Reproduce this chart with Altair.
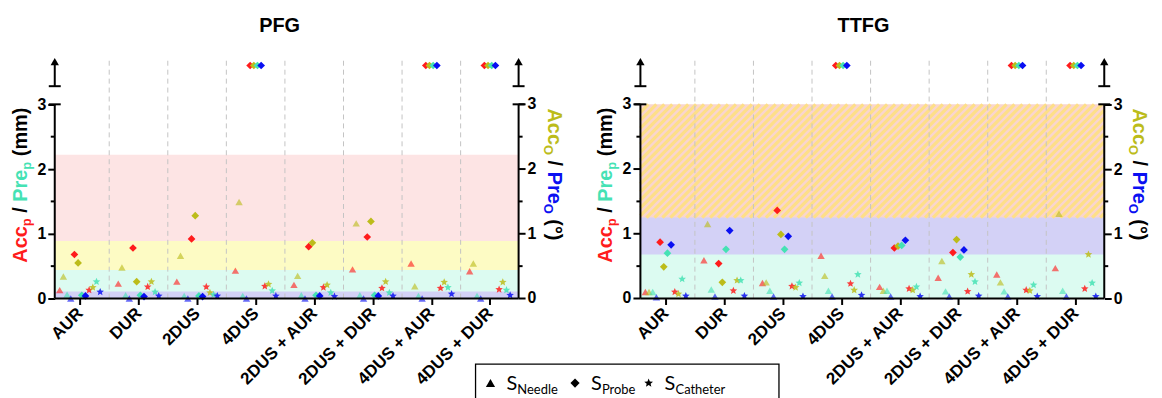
import json
import math
import altair as alt
import pandas as pd

# ---------------- data ----------------
categories = ["AUR", "DUR", "2DUS", "4DUS", "2DUS + AUR", "2DUS + DUR", "4DUS + AUR", "4DUS + DUR"]
panels = ["PFG", "TTFG"]
samples = ["Needle", "Probe", "Catheter"]
metrics = ["Acc_p", "Acc_o", "Pre_p", "Pre_o"]

# None = value beyond the axis (drawn above the break)
pfg_needle_acc_p = [0.13, 0.23, 0.26, 0.43, 0.21, 0.45, 0.54, 0.42]
pfg_needle_acc_o = [0.34, 0.48, 0.66, 1.49, 0.35, 1.16, 0.19, 0.54]
pfg_needle_pre_p = [0.06, 0.05, 0.04, 0.04, 0.05, 0.05, 0.04, 0.04]
pfg_needle_pre_o = [0.0, 0.0, 0.0, 0.0, 0.0, 0.0, 0.0, 0.0]
pfg_probe_acc_p = [0.68, 0.78, 0.92, None, 0.80, 0.95, None, None]
pfg_probe_acc_o = [0.55, 0.26, 1.28, None, 0.86, 1.19, None, None]
pfg_probe_pre_p = [0.05, 0.05, 0.04, None, 0.05, 0.05, None, None]
pfg_probe_pre_o = [0.04, 0.03, 0.03, None, 0.04, 0.04, None, None]
pfg_catheter_acc_p = [0.13, 0.18, 0.18, 0.19, 0.17, 0.16, 0.16, 0.14]
pfg_catheter_acc_o = [0.17, 0.26, 0.09, 0.22, 0.21, 0.26, 0.25, 0.25]
pfg_catheter_pre_p = [0.26, 0.10, 0.06, 0.12, 0.09, 0.09, 0.17, 0.13]
pfg_catheter_pre_o = [0.10, 0.04, 0.04, 0.04, 0.03, 0.04, 0.07, 0.05]

ttfg_needle_acc_p = [0.10, 0.59, 0.24, 0.66, 0.18, 0.32, 0.37, 0.47]
ttfg_needle_acc_o = [0.10, 1.15, 0.25, 0.35, 0.12, 0.58, 0.25, 1.31]
ttfg_needle_pre_p = [0.10, 0.14, 0.12, 0.12, 0.12, 0.11, 0.11, 0.12]
ttfg_needle_pre_o = [0.02, 0.03, 0.03, 0.03, 0.03, 0.03, 0.03, 0.03]
ttfg_probe_acc_p = [0.87, 0.54, 1.36, None, 0.78, 0.71, None, None]
ttfg_probe_acc_o = [0.49, 0.25, 0.99, None, 0.81, 0.91, None, None]
ttfg_probe_pre_p = [0.70, 0.76, 0.76, None, 0.82, 0.64, None, None]
ttfg_probe_pre_o = [0.83, 1.05, 0.96, None, 0.90, 0.75, None, None]
ttfg_catheter_acc_p = [0.10, 0.12, 0.19, 0.23, 0.15, 0.11, 0.13, 0.15]
ttfg_catheter_acc_o = [0.07, 0.28, 0.17, 0.13, 0.13, 0.37, 0.12, 0.68]
ttfg_catheter_pre_p = [0.30, 0.28, 0.24, 0.37, 0.18, 0.26, 0.21, 0.24]
ttfg_catheter_pre_o = [0.04, 0.04, 0.03, 0.05, 0.03, 0.04, 0.03, 0.03]

# tolerance bands, order Acc_p, Acc_o, Pre_p, Pre_o
pfg_limits = [2.22, 0.89, 0.44, 0.11]
ttfg_limits = [3.0, 3.0, 0.68, 1.25]

values = {
    "PFG": {
        "Needle": [pfg_needle_acc_p, pfg_needle_acc_o, pfg_needle_pre_p, pfg_needle_pre_o],
        "Probe": [pfg_probe_acc_p, pfg_probe_acc_o, pfg_probe_pre_p, pfg_probe_pre_o],
        "Catheter": [pfg_catheter_acc_p, pfg_catheter_acc_o, pfg_catheter_pre_p, pfg_catheter_pre_o],
    },
    "TTFG": {
        "Needle": [ttfg_needle_acc_p, ttfg_needle_acc_o, ttfg_needle_pre_p, ttfg_needle_pre_o],
        "Probe": [ttfg_probe_acc_p, ttfg_probe_acc_o, ttfg_probe_pre_p, ttfg_probe_pre_o],
        "Catheter": [ttfg_catheter_acc_p, ttfg_catheter_acc_o, ttfg_catheter_pre_p, ttfg_catheter_pre_o],
    },
}
limits = {"PFG": pfg_limits, "TTFG": ttfg_limits}

# ---------------- style / layout ----------------
FONT = "Liberation Sans"
RED, OLIVE, CYAN, BLUE = "#ff1c1c", "#bcbc1a", "#45e2b4", "#0a10f2"
metric_color = dict(zip(metrics, [RED, OLIVE, CYAN, BLUE]))
band_color = {"Acc_p": "#fde4e4", "Acc_o": "#fdfbc4", "Pre_p": "#dcfbf1", "Pre_o": "#d3d1f6"}
HATCH_BASE, HATCH_STRIPE = "#f9d5cf", "#fedf88"
shape_of = {"Needle": "triangle-up", "Probe": "diamond"}

PLOT_W, PLOT_H = 1055, 244
LX_MIN, LX_MAX = -0.43, 7.49
PANEL_SHIFT = 10
X_MIN, X_MAX = LX_MIN, LX_MAX + PANEL_SHIFT
Y_TOP = 3.75
PXU = PLOT_W / (X_MAX - X_MIN)
PXV = PLOT_H / Y_TOP
DODGE = 3.7 / PXU
OFF_V = 3.6
BREAK_LO, BREAK_HI, ARROW_V = 3.28, 3.62, 3.66

pts = []
for k in range(10):
    a = math.radians(-90 + 36 * k)
    r = 1.0 if k % 2 == 0 else 0.45
    pts.append(f"{r * math.cos(a):.3f},{r * math.sin(a):.3f}")
STAR = "M" + " L".join(pts) + " Z"
shape_of["Catheter"] = STAR

XS = alt.Scale(domain=[X_MIN, X_MAX], nice=False, zero=False)
YS = alt.Scale(domain=[0, Y_TOP], nice=False, zero=False)
tick_vals = list(range(8)) + [PANEL_SHIFT + i for i in range(8)]
XAXIS = alt.Axis(values=tick_vals, labelExpr=f"{json.dumps(categories)}[datum.value % {PANEL_SHIFT}]",
                 labelAngle=315, labelAlign="right", labelBaseline="middle", labelPadding=6,
                 labelFont=FONT, labelFontSize=17, labelFontWeight="bold", labelColor="black",
                 labelOverlap=False, labelFlush=False, tickSize=6, tickWidth=2, tickColor="black",
                 domain=False, grid=False, title=None)


def yaxis(orient):
    return alt.Axis(orient=orient, values=[0, 1, 2, 3], format="d", labelFont=FONT, labelFontSize=16,
                    labelFontWeight="bold", labelColor="black", labelPadding=2, labelFlush=False,
                    tickSize=7, tickWidth=2, tickColor="black", domain=False, grid=False, title=None)


YAXIS_L, YAXIS_R = yaxis("left"), yaxis("right")


def X(f="u"):
    return alt.X(f"{f}:Q", scale=XS, axis=XAXIS)


def Y(f="v"):
    return alt.Y(f"{f}:Q", scale=YS, axis=YAXIS_L)


layers = []

# ---- bands + hatch ----
band_rows, stripe_rows = [], []
for p_i, pname in enumerate(panels):
    off = p_i * PANEL_SHIFT
    lim = list(zip(metrics, limits[pname]))
    lim_sorted = sorted(lim, key=lambda t: -t[1])
    for j, (m, t) in enumerate(lim_sorted):
        top = min(t, 3.0)
        if j > 0 and abs(t - lim_sorted[j - 1][1]) < 1e-9:
            lower = next((min(tt, 3.0) for mm, tt in lim_sorted if tt < t), 0.0)
            W = (LX_MAX - LX_MIN) * PXU
            H = (top - lower) * PXV
            c = -H
            while c < W:
                x0, x1 = max(0.0, c), min(W, H + c)
                if x1 > x0:
                    stripe_rows.append({"u": off + LX_MIN + x0 / PXU, "v": lower + (x0 - c) / PXV,
                                        "u2": off + LX_MIN + x1 / PXU, "v2": lower + (x1 - c) / PXV})
                c += 8.0
            continue
        nxt_equal = j + 1 < len(lim_sorted) and abs(lim_sorted[j + 1][1] - t) < 1e-9
        band_rows.append({"u": off + LX_MIN, "u2": off + LX_MAX, "v": 0.0, "v2": top,
                          "col": HATCH_BASE if nxt_equal else band_color[m]})

layers.append(alt.Chart(pd.DataFrame(band_rows)).mark_rect().encode(
    x=X(), x2="u2:Q", y=Y(), y2="v2:Q", color=alt.Color("col:N", scale=None)))
layers.append(alt.Chart(pd.DataFrame(stripe_rows)).mark_rule(color=HATCH_STRIPE, strokeWidth=3.2).encode(
    x=X(), x2="u2:Q", y=Y(), y2="v2:Q"))

# ---- separators ----
sep = pd.DataFrame([{"u": p * PANEL_SHIFT + i + 0.5, "v": 0.0, "v2": 3.7} for p in range(2) for i in range(7)])
layers.append(alt.Chart(sep).mark_rule(color="#c4c4c4", strokeWidth=1, strokeDash=[5, 4]).encode(
    x=X(), y=Y(), y2="v2:Q"))

# ---- data points ----
rows = []
for p_i, pname in enumerate(panels):
    for s_i, s in enumerate(samples):
        for m_i, m in enumerate(metrics):
            for c_i, val in enumerate(values[pname][s][m_i]):
                k = s_i * 4 + m_i
                rows.append({"panel": pname, "sample": s, "metric": m, "category": categories[c_i],
                             "u": p_i * PANEL_SHIFT + c_i + (k - 5.5) * DODGE,
                             "v": OFF_V if val is None else val, "col": metric_color[m]})
pdf = pd.DataFrame(rows)
opac = {"Needle": 0.62, "Probe": 1.0, "Catheter": 0.85}
sizes = {"Needle": 55, "Probe": 60, "Catheter": 64}
for s in samples:
    layers.append(alt.Chart(pdf[pdf["sample"] == s]).mark_point(
        shape=shape_of[s], filled=True, size=sizes[s], opacity=opac[s], strokeWidth=0).encode(
        x=X(), y=Y(), color=alt.Color("col:N", scale=None)))

# ---- axis lines, breaks, ticks ----
axes_u = []
for p in range(2):
    axes_u.append((p * PANEL_SHIFT + LX_MIN, "left"))
    axes_u.append((p * PANEL_SHIFT + LX_MAX, "right"))
vseg = pd.DataFrame([{"u": a, "v": lo, "v2": hi} for a, _ in axes_u for lo, hi in [(0.0, 3.0), (BREAK_LO, BREAK_HI)]])
layers.append(alt.Chart(vseg).mark_rule(color="black", strokeWidth=2).encode(x=X(), y=Y(), y2="v2:Q"))
hseg = pd.DataFrame([{"u": p * PANEL_SHIFT + LX_MIN, "u2": p * PANEL_SHIFT + LX_MAX, "v": 0.0} for p in range(2)])
layers.append(alt.Chart(hseg).mark_rule(color="black", strokeWidth=2).encode(x=X(), x2="u2:Q", y=Y()))
caps = pd.DataFrame([{"u": a, "v": v} for a, _ in axes_u for v in (3.0, BREAK_LO)])
layers.append(alt.Chart(caps).mark_rule(color="black", strokeWidth=2, xOffset=-6, x2Offset=6).encode(
    x=X(), x2="u:Q", y=Y()))
minor_l = pd.DataFrame([{"u": a, "v": v} for a, side in axes_u if side == "left" for v in (0.5, 1.5, 2.5)])
minor_r = pd.DataFrame([{"u": a, "v": v} for a, side in axes_u if side == "right" for v in (0.5, 1.5, 2.5)])
layers.append(alt.Chart(minor_l).mark_rule(color="black", strokeWidth=2, xOffset=-4, x2Offset=0).encode(
    x=X(), x2="u:Q", y=Y()))
layers.append(alt.Chart(minor_r).mark_rule(color="black", strokeWidth=2, xOffset=0, x2Offset=4).encode(
    x=X(), x2="u:Q", y=Y()))
inner_l = pd.DataFrame([{"u": PANEL_SHIFT + LX_MIN, "v": float(v), "t": str(v)} for v in range(4)])
inner_r = pd.DataFrame([{"u": LX_MAX, "v": float(v), "t": str(v)} for v in range(4)])
layers.append(alt.Chart(inner_l).mark_rule(color="black", strokeWidth=2, xOffset=-7, x2Offset=0).encode(
    x=X(), x2="u:Q", y=Y()))
layers.append(alt.Chart(inner_r).mark_rule(color="black", strokeWidth=2, xOffset=0, x2Offset=7).encode(
    x=X(), x2="u:Q", y=Y()))
layers.append(alt.Chart(inner_l).mark_text(font=FONT, fontSize=16, fontWeight="bold", align="right",
                                            baseline="middle", dx=-9, color="black").encode(x=X(), y=Y(), text="t:N"))
layers.append(alt.Chart(inner_r).mark_text(font=FONT, fontSize=16, fontWeight="bold", align="left",
                                            baseline="middle", dx=9, color="black").encode(x=X(), y=Y(), text="t:N"))
arrows = pd.DataFrame([{"u": a, "v": ARROW_V} for a, _ in axes_u])
layers.append(alt.Chart(arrows).mark_point(shape="triangle-up", filled=True, color="black", size=70,
                                           opacity=1, strokeWidth=0).encode(x=X(), y=Y()))

# ---- texts (pixel positions relative to plot origin) ----
DUMMY = alt.Data(values=[{}])


def text_layer(txt, px, py, size, color="black", weight="bold", angle=0, align="left", font=FONT):
    return alt.Chart(DUMMY).mark_text(text=txt, font=font, fontSize=size, fontWeight=weight, color=color,
                                      angle=angle, align=align, baseline="alphabetic").encode(
        x=alt.value(px), y=alt.value(py))


W_BOLD = {'A': 722, 'c': 556, 'p': 611, ' ': 278, '/': 278, 'P': 667, 'r': 389, 'e': 556, '(': 333,
          'm': 889, ')': 333, 'O': 778, '°': 400, 'o': 611}


def tw(s, fs):
    return sum(W_BOLD.get(ch, 556) for ch in s) * fs / 1000.0


MAIN_FS, SUB_FS = 20, 13


def vertical_title(tokens, x_base, y0, up, sub_shift):
    out = []
    cum = 0.0
    for txt, col, sub in tokens:
        fs = SUB_FS if sub else MAIN_FS
        if txt.strip():
            py = y0 - cum if up else y0 + cum
            px = x_base + (sub_shift if sub else 0)
            out.append(text_layer(txt, px, py, fs, color=col, angle=270 if up else 90))
        cum += tw(txt, fs)
    return out


left_tokens = [("Acc", RED, False), ("p", RED, True), (" ", "black", False), ("/", "black", False),
               (" ", "black", False), ("Pre", CYAN, False), ("p", CYAN, True), (" ", "black", False),
               ("(mm)", "black", False)]
right_tokens = [("Acc", OLIVE, False), ("O", OLIVE, True), (" ", "black", False), ("/", "black", False),
                (" ", "black", False), ("Pre", BLUE, False), ("O", BLUE, True), (" ", "black", False),
                ("(°)", "black", False)]

OX, OY = 55, 55  # page position of plot origin
for base_page_x in (27, 615):
    layers += vertical_title(left_tokens, base_page_x - OX, 263 - OY, True, 4.5)
for base_page_x in (551, 1139):
    layers += vertical_title(right_tokens, base_page_x - OX, 108 - OY, False, -4.5)

layers.append(text_layer("PFG", 281 - OX, 31 - OY, 20, align="center"))
layers.append(text_layer("TTFG", 868 - OX, 31 - OY, 20, align="center"))

# ---- legend ----
layers.append(alt.Chart(DUMMY).mark_rect(fill="white", stroke="black", strokeWidth=1.3).encode(
    x=alt.value(478 - OX), x2=alt.value(783 - OX), y=alt.value(365 - OY), y2=alt.value(420 - OY)))
LEG_FONT = "Lato"
leg_items = [("triangle-up", 493, "Needle"), ("diamond", 578, "Probe"), (STAR, 652, "Catheter")]
for shp, lx, name in leg_items:
    layers.append(alt.Chart(DUMMY).mark_point(shape=shp, filled=True, color="black", size=85, opacity=1,
                                              strokeWidth=0).encode(x=alt.value(lx - OX), y=alt.value(384 - OY)))
    layers.append(text_layer("S", lx + 16 - OX, 391 - OY, 20, weight="normal", font=LEG_FONT))
    layers.append(text_layer(name, lx + 27 - OX, 395 - OY, 13, weight="normal", font=LEG_FONT))

main = alt.layer(*layers)
right_axis = alt.Chart(pd.DataFrame({"u": [0.0], "v": [0.0]})).mark_point(opacity=0).encode(
    x=X(), y=alt.Y("v:Q", scale=YS, axis=YAXIS_R))

chart = alt.layer(main, right_axis).resolve_scale(y="independent").properties(
    width=PLOT_W, height=PLOT_H,
    padding={"left": OX - 8, "top": OY - 8, "right": 50, "bottom": 100},
    autosize=alt.AutoSizeParams(type="none"),
    background="white",
).configure_view(stroke=None)

chart.save("out.html", embed_options={"renderer": "svg", "actions": False})
